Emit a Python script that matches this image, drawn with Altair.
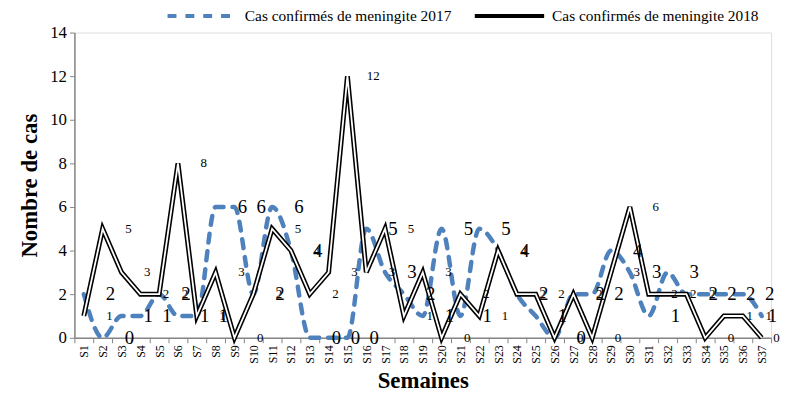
import altair as alt
import pandas as pd

weeks = [f"S{i}" for i in range(1, 38)]
cas_2017 = [2, 0, 1, 1, 2, 1, 1, 6, 6, 2, 6, 4, 0, 0, 0, 5, 3, 2, 1, 5, 1, 5, 4, 2, 1, 0, 2, 2, 4, 3, 1, 3, 2, 2, 2, 2, 1]
cas_2018 = [1, 5, 3, 2, 2, 8, 1, 3, 0, 2, 5, 4, 2, 3, 12, 3, 5, 1, 3, 0, 2, 1, 4, 2, 2, 0, 2, 0, 3, 6, 2, 2, 2, 0, 1, 1, 0]
name_2017 = "Cas confirmés de meningite 2017"
name_2018 = "Cas confirmés de meningite 2018"
y_ticks = [0, 2, 4, 6, 8, 10, 12, 14]

FONT = "Times New Roman, Liberation Serif, serif"
BLUE = "#4F81BD"

df17 = pd.DataFrame({"Semaine": weeks, "Cas": cas_2017, "Serie": name_2017})
df18 = pd.DataFrame({"Semaine": weeks, "Cas": cas_2018, "Serie": name_2018})
last_week = weeks[-1]

x_enc = alt.X(
    "Semaine:N",
    sort=weeks,
    scale=alt.Scale(domain=weeks, paddingInner=0, paddingOuter=0),
    axis=alt.Axis(
        title="Semaines",
        labelAngle=-90,
        labelFont=FONT,
        labelFontSize=12,
        labelColor="black",
        labelPadding=2,
        tickBand="extent",
        tickColor="#868686",
        tickSize=5,
        domainColor="#868686",
        domainWidth=1.5,
        titleFont=FONT,
        titleFontSize=23,
        titleFontWeight="bold",
        titleColor="black",
        titlePadding=6,
        grid=False,
    ),
)
y_enc = alt.Y(
    "Cas:Q",
    scale=alt.Scale(domain=[0, 14], nice=False),
    axis=alt.Axis(
        title="Nombre de cas",
        values=y_ticks,
        labelFont=FONT,
        labelFontSize=17,
        labelColor="black",
        labelPadding=3,
        tickColor="#868686",
        tickSize=5,
        domainColor="#868686",
        domainWidth=1.5,
        titleFont=FONT,
        titleFontSize=23,
        titleFontWeight="bold",
        titleColor="black",
        titlePadding=8,
        grid=False,
    ),
)

color_scale = alt.Scale(domain=[name_2017, name_2018], range=[BLUE, "black"])
dash_scale = alt.Scale(domain=[name_2017, name_2018], range=[[9, 9], [1, 0]])
legend = alt.Legend(
    title=None,
    orient="none",
    legendX=92,
    legendY=-54,
    direction="horizontal",
    symbolType="stroke",
    symbolSize=4900,
    symbolStrokeWidth=4,
    labelFont=FONT,
    labelFontSize=15.5,
    labelColor="black",
    labelOffset=6,
    labelLimit=0,
    columnPadding=15,
)

line17 = alt.Chart(df17).mark_line(
    interpolate="monotone", strokeWidth=4.5, strokeCap="round"
).encode(
    x=x_enc,
    y=y_enc,
    color=alt.Color("Serie:N", scale=color_scale, legend=legend),
    strokeDash=alt.StrokeDash("Serie:N", scale=dash_scale, legend=legend),
)

line18_out = alt.Chart(df18).mark_line(strokeWidth=5, strokeJoin="miter").encode(
    x=x_enc,
    y=y_enc,
    color=alt.Color("Serie:N", scale=color_scale, legend=legend),
    strokeDash=alt.StrokeDash("Serie:N", scale=dash_scale, legend=legend),
)
line18_in = alt.Chart(df18).mark_line(strokeWidth=1.8, color="white", strokeJoin="miter").encode(
    x=x_enc, y=y_enc
)

not_last = f"datum.Semaine != '{last_week}'"
is_last = f"datum.Semaine == '{last_week}'"

text17 = alt.Chart(df17).mark_text(
    font=FONT, fontSize=19, dx=27, baseline="middle", align="center", color="black"
).encode(x=x_enc, y=y_enc, text="Cas:Q").transform_filter(not_last)
text17_last = alt.Chart(df17).mark_text(
    font=FONT, fontSize=19, dx=11, baseline="middle", align="center", color="black"
).encode(x=x_enc, y=y_enc, text="Cas:Q").transform_filter(is_last)
text18 = alt.Chart(df18).mark_text(
    font=FONT, fontSize=13, dx=26, baseline="middle", align="center", color="black"
).encode(x=x_enc, y=y_enc, text="Cas:Q").transform_filter(not_last)
text18_last = alt.Chart(df18).mark_text(
    font=FONT, fontSize=13, dx=15, baseline="middle", align="center", color="black"
).encode(x=x_enc, y=y_enc, text="Cas:Q").transform_filter(is_last)

chart = alt.layer(
    line17, line18_out, line18_in, text17, text17_last, text18, text18_last
).properties(
    width=703,
    height=308,
    autosize=alt.AutoSizeParams(type="none"),
    padding={"left": 67, "top": 23, "right": 10, "bottom": 61},
).configure_view(stroke=None).configure(background="white")

chart.save("out.html", embed_options={"renderer": "svg", "actions": False})
